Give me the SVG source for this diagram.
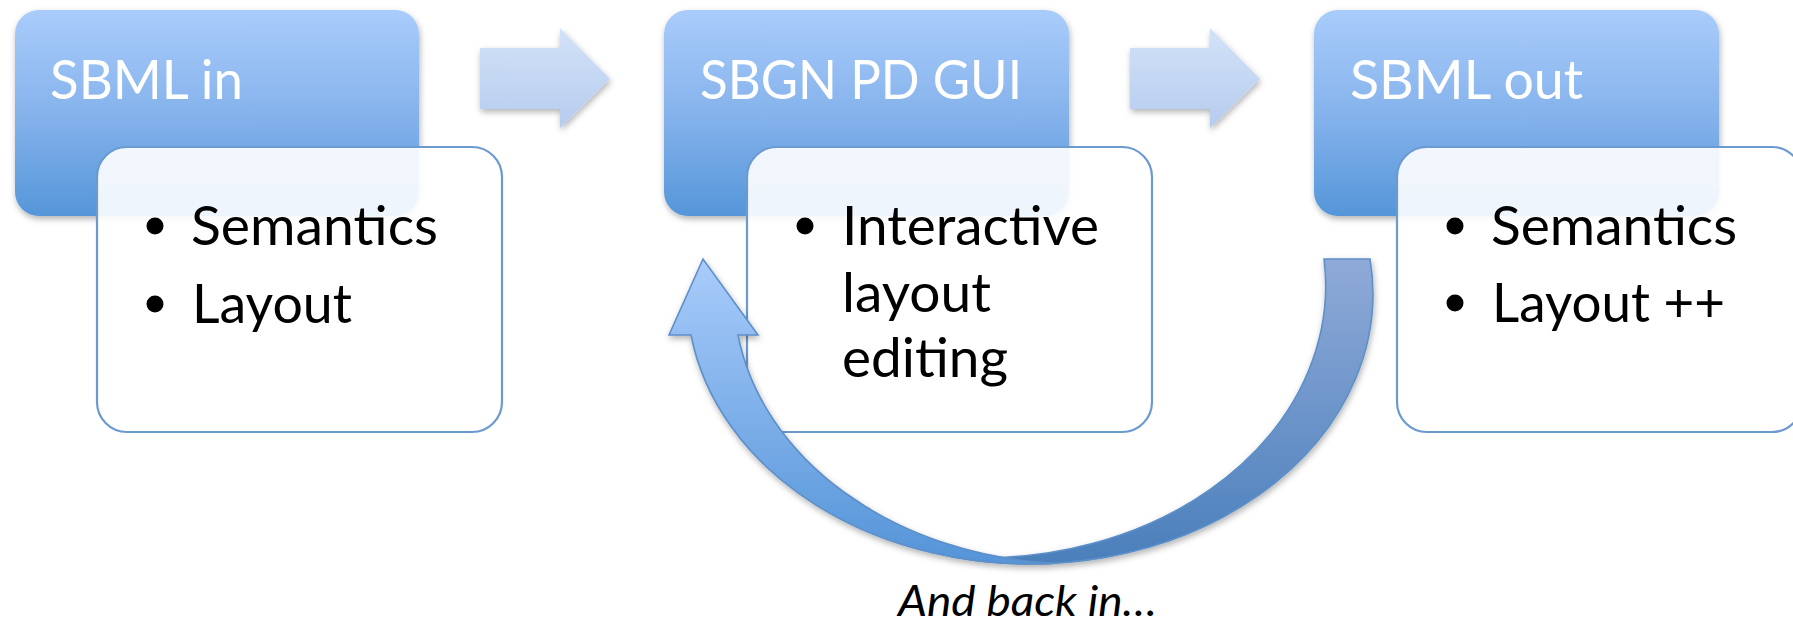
<svg xmlns="http://www.w3.org/2000/svg" width="1793" height="626" viewBox="0 0 1793 626">
  <style>
    .head { fill: url(#boxFill); filter: url(#shadow); }
    .card { fill: #ffffff; fill-opacity: 0.9; stroke: #6a9ad0; stroke-width: 2.2; }
    .title { font-family: Lato, "Open Sans", sans-serif; font-size: 55px; fill: #ffffff; }
    .item { font-family: Lato, "Open Sans", sans-serif; font-size: 55px; fill: #000000; }
    .dot { fill: #000000; }
    .flow { fill: url(#flowFill); filter: url(#shadow); }
    .band { stroke: #5d8fc9; stroke-width: 1.6; stroke-linejoin: miter; }
    .note { font-family: Lato, "Open Sans", sans-serif; font-style: italic; font-size: 42px; fill: #000000; }
  </style>
  <defs>
    <linearGradient id="boxFill" x1="0" y1="0" x2="0" y2="1">
      <stop offset="0" stop-color="#a9ccfb"/>
      <stop offset="0.5" stop-color="#86b3ec"/>
      <stop offset="1" stop-color="#5596d9"/>
    </linearGradient>
    <linearGradient id="flowFill" x1="0" y1="0" x2="0" y2="1">
      <stop offset="0" stop-color="#d2e2f8"/>
      <stop offset="1" stop-color="#b6ccee"/>
    </linearGradient>
    <linearGradient id="returnFill" gradientUnits="userSpaceOnUse" x1="0" y1="259" x2="0" y2="564">
      <stop offset="0" stop-color="#a9ccfb"/>
      <stop offset="1" stop-color="#5494d8"/>
    </linearGradient>
    <linearGradient id="tailFill" gradientUnits="userSpaceOnUse" x1="0" y1="259" x2="0" y2="564">
      <stop offset="0" stop-color="#8faad8"/>
      <stop offset="1" stop-color="#4a7fbb"/>
    </linearGradient>
    <filter id="shadow" x="-10%" y="-10%" width="125%" height="130%">
      <feDropShadow dx="1" dy="3" stdDeviation="3" flood-color="#000000" flood-opacity="0.3"/>
    </filter>
  </defs>

  <!-- Stage 1: SBML input -->
  <g id="node-sbml-in">
    <rect class="head" x="15" y="10" width="404" height="206" rx="24"/>
    <rect class="card" x="97" y="147" width="405" height="285" rx="30"/>
    <text class="title" x="50" y="99" textLength="193" lengthAdjust="spacingAndGlyphs">SBML in</text>
    <circle class="dot" cx="155" cy="226" r="8.5"/>
    <text class="item" x="191" y="245" textLength="247" lengthAdjust="spacingAndGlyphs">Semantics</text>
    <circle class="dot" cx="155" cy="304" r="8.5"/>
    <text class="item" x="192" y="323" textLength="160" lengthAdjust="spacingAndGlyphs">Layout</text>
  </g>

  <!-- Stage 2: SBGN PD editor -->
  <g id="node-sbgn-gui">
    <rect class="head" x="664" y="10" width="405" height="206" rx="24"/>
    <rect class="card" x="747" y="147" width="405" height="285" rx="30"/>
    <text class="title" x="700" y="99" textLength="322" lengthAdjust="spacingAndGlyphs">SBGN PD GUI</text>
    <circle class="dot" cx="805" cy="226" r="8.5"/>
    <text class="item" x="842" y="245" textLength="257" lengthAdjust="spacingAndGlyphs">Interactive</text>
    <text class="item" x="842" y="312" textLength="149" lengthAdjust="spacingAndGlyphs">layout</text>
    <text class="item" x="842" y="377" textLength="166" lengthAdjust="spacingAndGlyphs">editing</text>
  </g>

  <!-- Stage 3: SBML output -->
  <g id="node-sbml-out">
    <rect class="head" x="1314" y="10" width="405" height="206" rx="24"/>
    <rect class="card" x="1397" y="147" width="405" height="285" rx="30"/>
    <text class="title" x="1350" y="99" textLength="233" lengthAdjust="spacingAndGlyphs">SBML out</text>
    <circle class="dot" cx="1455" cy="226" r="8.5"/>
    <text class="item" x="1491" y="245" textLength="246" lengthAdjust="spacingAndGlyphs">Semantics</text>
    <circle class="dot" cx="1455" cy="303" r="8.5"/>
    <text class="item" x="1492" y="322" textLength="233" lengthAdjust="spacingAndGlyphs">Layout ++</text>
  </g>

  <g id="connectors">
    <!-- forward block arrows -->
    <path class="flow" d="M480,48 H560 V28 L610,79 L560,128 V109 H480 Z"/>
    <path class="flow" d="M1130,48 H1210 V28 L1260,79 L1210,128 V109 H1130 Z"/>
    <!-- curved return arrow: tail band, then arrow band on top -->
    <g id="return-arrow" filter="url(#shadow)">
      <path class="band" fill="url(#tailFill)" d="M1370,259 A343,270 0 0 1 951,556.7 A343,272 0 0 0 1324,259 Z"/>
      <path class="band" fill="url(#returnFill)" d="M691,335 A343,270 0 0 0 1053.5,563.4 A343,270 0 0 1 738,335 L758,335 L703,259 L669,335 Z"/>
    </g>
    <text class="note" x="898" y="616" textLength="259" lengthAdjust="spacingAndGlyphs">And back in…</text>
  </g>
</svg>
